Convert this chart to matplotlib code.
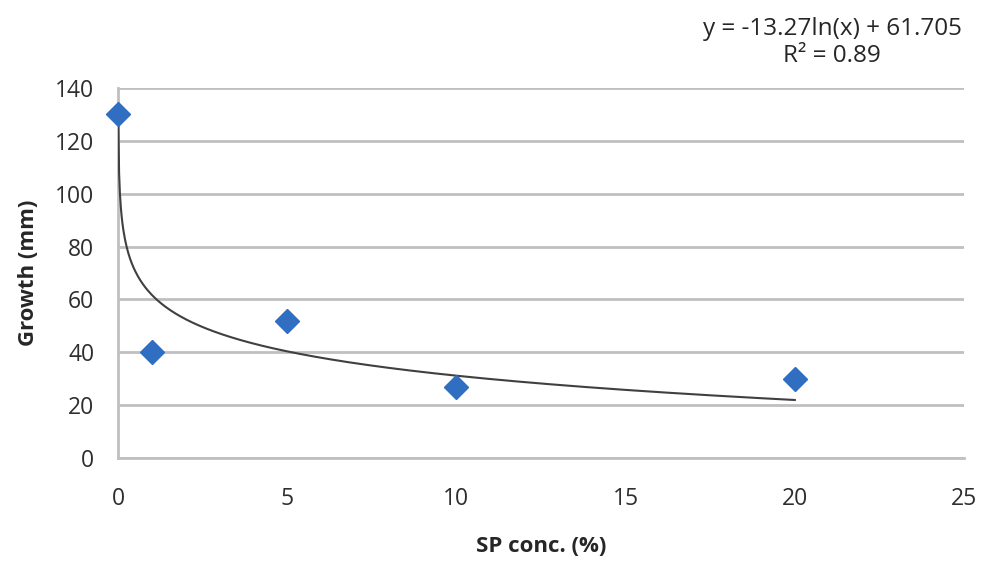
import numpy as np
import matplotlib.pyplot as plt

# SP concentration (%) vs growth (mm)
conc = [0, 1, 5, 10, 20]
growth = [130, 40, 52, 27, 30]

# logarithmic trendline coefficients
a, b = -13.27, 61.705
r2 = 0.89

plt.rcParams['font.family'] = ['Open Sans', 'DejaVu Sans']

fig = plt.figure(figsize=(9.87, 5.61), dpi=100)
ax = fig.add_axes([0.1196, 0.1836, 0.8571, 0.6595])

xs = np.linspace(0.006, 20, 800)
ax.plot(xs, a * np.log(xs) + b, color='#404040', lw=1.5, zorder=3)
ax.plot(conc, growth, 'D', color='#2f6ec0', ms=12, mec='#2f6ec0', zorder=4, clip_on=False)

ax.set_xlim(0, 25)
ax.set_ylim(0, 140)
ax.set_xticks(range(0, 26, 5))
ax.set_yticks(range(0, 141, 20))
ax.grid(axis='y', color='#c0c0c0', lw=2)
ax.set_axisbelow(True)
for s in ['top', 'right']:
    ax.spines[s].set_visible(False)
for s in ['left', 'bottom']:
    ax.spines[s].set_color('#c0c0c0')
    ax.spines[s].set_linewidth(2)
ax.tick_params(length=0, labelsize=16.5, colors='#2e2e2e')
ax.tick_params(axis='x', pad=21)
ax.tick_params(axis='y', pad=17)

ax.set_xlabel('SP conc. (%)', fontsize=16, fontweight='bold', color='#262626', labelpad=18)
ax.set_ylabel('Growth (mm)', fontsize=16, fontweight='bold', color='#262626', labelpad=12)

fig.text(0.843, 0.924, 'y = -13.27ln(x) + 61.705\nR² = 0.89', ha='center', va='center',
         fontsize=17.5, color='#262626', linespacing=1.2)

fig.savefig('out.png', dpi=100)
